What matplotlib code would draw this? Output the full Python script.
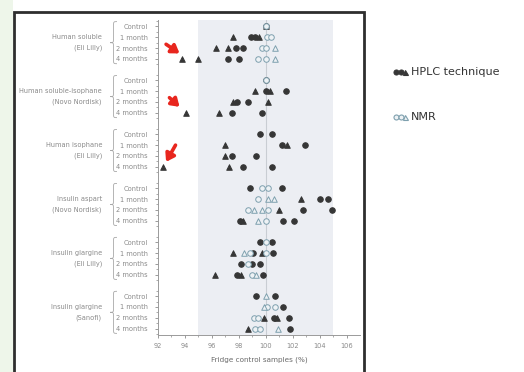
import numpy as np
import matplotlib
matplotlib.use("Agg")
import matplotlib.pyplot as plt
from matplotlib.path import Path
from matplotlib.patches import PathPatch, Rectangle
from matplotlib import transforms

# ---- data ----
groups = ["Human soluble\n(Eli Lilly)",
          "Human soluble-isophane\n(Novo Nordisk)",
          "Human isophane\n(Eli Lilly)",
          "Insulin aspart\n(Novo Nordisk)",
          "Insulin glargine\n(Eli Lilly)",
          "Insulin glargine\n(Sanofi)"]
rows = ["Control", "1 month", "2 months", "4 months"]
x_ticks = [92, 94, 96, 98, 100, 102, 104, 106]

# one list of values per row, groups in order, rows Control..4 months
hplc_circles = [
    [100.0], [98.9, 99.2], [97.8, 98.3], [97.2, 98.0],
    [100.0], [100.0, 101.5], [97.9, 98.7], [97.5, 99.75],
    [99.6, 100.5], [101.2, 102.9], [97.5, 99.3], [98.3, 100.5],
    [98.8, 101.2], [104.05, 104.6], [102.8, 104.9], [98.1, 101.3, 102.1],
    [99.55, 100.5], [99.05, 100.55], [98.2, 99.0, 99.55], [97.9, 99.8],
    [99.3, 100.7], [101.3], [100.6, 101.75], [101.8],
]
hplc_triangles = [
    [100.0], [97.6, 99.5], [96.3, 97.2], [93.8, 95.0],
    [], [99.2, 100.3], [97.6, 100.2], [94.1, 96.5],
    [], [97.0, 101.6], [97.0], [92.35, 97.3],
    [], [102.6], [101.0], [98.3],
    [], [97.6, 99.7], [], [96.2, 98.2],
    [], [], [99.9, 100.8], [98.7],
]
nmr_circles = [
    [100.0], [100.1, 100.4], [99.7, 100.0], [99.4, 100.0],
    [100.0], [], [], [],
    [], [], [], [],
    [99.75, 100.2], [99.4], [98.7, 100.2], [100.0],
    [100.05], [98.8, 100.05], [98.7], [99.0],
    [], [100.1, 100.7], [99.1, 99.4], [99.2, 99.6],
]
nmr_triangles = [
    [], [], [100.7], [100.7],
    [], [], [], [],
    [], [], [], [],
    [], [100.2, 100.6], [99.1, 99.7], [99.4],
    [], [98.4], [], [99.3],
    [100.0], [99.85], [], [100.9],
]
# arrows: (head x, head row, tail x, tail row)
arrows = [(93.6, 2.5, 92.6, 1.65), (93.6, 7.45, 92.85, 6.6), (92.6, 12.55, 93.3, 11.0)]

HPLC = "#363636"
NMR_EDGE = "#7ea0ae"
NMR_FACE = "#eef2f5"
GRAY = "#8a8a8a"

W, H = 524, 372
fig = plt.figure(figsize=(W / 100, H / 100), dpi=100)
fig.patch.set_facecolor("white")

# slide bits and the black frame
fig.add_artist(Rectangle((0, 0), 13 / W, 1, transform=fig.transFigure,
                         facecolor="#eef6ea", edgecolor="none", zorder=-5))
fig.add_artist(Rectangle((14 / W, -0.02), 350 / W, 1 - 12 / H + 0.02,
                         transform=fig.transFigure, facecolor="none",
                         edgecolor="#2e2e2e", lw=2, zorder=10))

ax = fig.add_axes([158 / W, 1 - 335 / H, 202 / W, 315 / H])
ax.set_facecolor("none")

def ypos(i):
    return (i // 4) * 5 + i % 4

ax.axvspan(95, 105, color="#eceef3", zorder=0, lw=0)
ax.axvline(100, color="#c9cdd3", lw=0.8, zorder=1)

def scatter_rows(data, marker, fc, ec, z):
    xs, ys = [], []
    for i, vals in enumerate(data):
        for v in vals:
            xs.append(v)
            ys.append(ypos(i))
    ax.scatter(xs, ys, s=16, marker=marker, facecolors=fc, edgecolors=ec,
               linewidths=0.7, zorder=z)

scatter_rows(hplc_circles, "o", HPLC, HPLC, 3)
scatter_rows(hplc_triangles, "^", HPLC, HPLC, 3)
scatter_rows(nmr_circles, "o", NMR_FACE, NMR_EDGE, 4)
scatter_rows(nmr_triangles, "^", NMR_FACE, NMR_EDGE, 4)

for hx, hy, tx, ty in arrows:
    ax.annotate("", xy=(hx, hy), xytext=(tx, ty),
                arrowprops=dict(arrowstyle="-|>,head_length=0.45,head_width=0.3",
                                color="#e8261e", lw=2.6, shrinkA=0, shrinkB=0),
                annotation_clip=False)

ax.set_xlim(92, 107)
ax.set_ylim(28.6, -0.6)
ax.set_xticks(x_ticks)
ax.set_xticks(np.arange(92, 107, 1), minor=True)
yt = [ypos(i) for i in range(len(groups) * 4)]
ax.set_yticks(yt)
ax.set_yticklabels(rows * len(groups))
ax.set_yticks(np.arange(-0.5, 28.6, 1), minor=True)
ax.tick_params(axis="both", which="major", labelsize=4.8, colors=GRAY,
               length=2.5, width=0.6, pad=3)
ax.tick_params(axis="both", which="minor", colors=GRAY, length=1.5, width=0.5)
ax.tick_params(axis="y", which="major", pad=5)
for s in ["top", "right"]:
    ax.spines[s].set_visible(False)
for s in ["left", "bottom"]:
    ax.spines[s].set_color("#9a9a9a")
    ax.spines[s].set_linewidth(0.7)
ax.set_xlabel("Fridge control samples (%)", fontsize=5.2, color="#6a6a6a",
              labelpad=6)

# braces and group names
bt = transforms.blended_transform_factory(fig.transFigure, ax.transData)
xl, xm, xr = 110 / W, 113.5 / W, 117 / W
for g, name in enumerate(groups):
    top, bot = g * 5 - 0.45, g * 5 + 3.45
    mid, d = (top + bot) / 2, 0.45
    verts = [(xr, top), (xm, top), (xm, top), (xm, top + d),
             (xm, mid - d),
             (xm, mid), (xm, mid), (xl, mid),
             (xm, mid), (xm, mid), (xm, mid + d),
             (xm, bot - d),
             (xm, bot), (xm, bot), (xr, bot)]
    codes = [Path.MOVETO, Path.CURVE4, Path.CURVE4, Path.CURVE4,
             Path.LINETO,
             Path.CURVE4, Path.CURVE4, Path.CURVE4,
             Path.CURVE4, Path.CURVE4, Path.CURVE4,
             Path.LINETO,
             Path.CURVE4, Path.CURVE4, Path.CURVE4]
    ax.add_patch(PathPatch(Path(verts, codes), transform=bt, fill=False,
                           edgecolor="#a8a8a8", lw=0.6, clip_on=False))
    l1, l2 = name.split("\n")
    ax.text(102 / W, g * 5 + 1, l1, transform=bt, ha="right", va="center",
            fontsize=4.8, color=GRAY)
    ax.text(102 / W, g * 5 + 2, l2, transform=bt, ha="right", va="center",
            fontsize=4.8, color=GRAY)

# legend outside the frame
for y, fc, ec, lab in [(72, HPLC, HPLC, "HPLC technique"),
                       (117, NMR_FACE, NMR_EDGE, "NMR")]:
    yf = 1 - y / H
    for dx, m in [(396, "o"), (400.5, "o"), (405, "^")]:
        fig.add_artist(plt.Line2D([dx / W], [yf], marker=m, markersize=3.6,
                                  markerfacecolor=fc, markeredgecolor=ec,
                                  markeredgewidth=0.8, linestyle="none",
                                  transform=fig.transFigure))
    fig.text(411 / W, yf, lab, fontsize=8, color="#333333", va="center",
             ha="left")

fig.savefig("out.png", dpi=100)
